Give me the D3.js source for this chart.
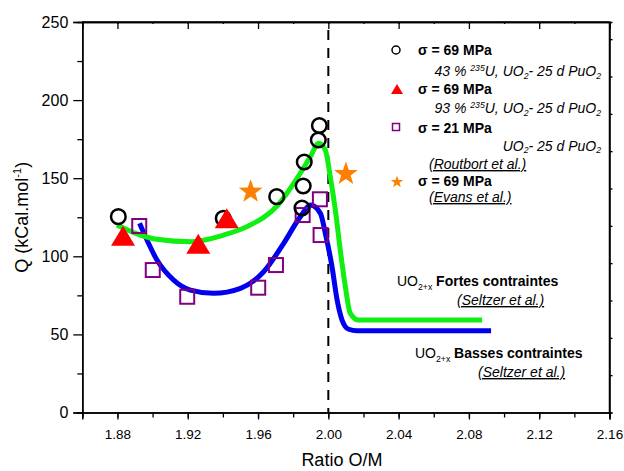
<!DOCTYPE html>
<html><head><meta charset="utf-8">
<script src="https://cdn.jsdelivr.net/npm/d3@7"></script>
<style>
body{margin:0;background:#fff;}
text{font-family:"Liberation Sans",Arial,sans-serif;fill:#000;}
</style></head>
<body><svg id="c" width="624" height="471"></svg>
<script>
// ---- data ----
const xTickValues = [1.88,1.92,1.96,2.00,2.04,2.08,2.12,2.16];
const yTickValues = [0,50,100,150,200,250];
const circlesX = [1.8805,1.9402,1.9706,1.9863,1.9857,1.9850,1.9949,1.9943];
const circlesY = [125.4,124.3,138.2,160.4,145.0,130.9,183.7,174.5];
const trianglesX = [1.8832,1.9260,1.9422];
const trianglesY = [113.1,108.0,124.3];
const squaresX = [1.8924,1.9001,1.9197,1.9601,1.9702,1.9854,1.9952,1.9956];
const squaresY = [119.4,91.2,74.1,79.9,94.4,126.4,136.5,113.6];
const starsX = [1.9558,2.0100];
const starsY = [141.4,152.7];
const greenX = [1.8797,1.8930,1.9025,1.9215,1.9404,1.9537,1.9708,1.9822,1.9898,1.9945,1.9983,2.0011,2.0040,2.0068,2.0097,2.0125,2.0173,2.0875];
const greenY = [120.0,113.6,110.9,109.3,113.6,119.0,132.2,149.9,163.8,172.3,168.0,151.0,129.6,104.0,80.5,63.5,59.2,59.2];
const blueX = [1.8926,1.8968,1.9025,1.9120,1.9215,1.9347,1.9500,1.9632,1.9746,1.9841,1.9898,1.9955,1.9983,2.0021,2.0050,2.0078,2.0116,2.0163,2.0926];
const blueY = [121.1,110.4,97.6,84.8,78.4,76.3,79.5,90.1,108.3,125.4,132.8,127.5,114.7,93.3,72.0,59.2,53.3,52.4,52.4];
const vLineX = 2.00;

// ---- layout ----
const L=82.3, R=609.5, T=22, B=412.5;
const svg = d3.select("#c");
const x = d3.scaleLinear().domain([1.86,2.16]).range([L,R]);
const y = d3.scaleLinear().domain([0,250]).range([B,T]);
const yRight = d3.scaleLinear().domain([0,10.46]).range([B,T]);

// axes
const fmt = d3.format(".2f");
const minorX = d3.range(1.86,2.161,0.02).map(v=>+v.toFixed(2));
const gx = svg.append("g").attr("transform",`translate(0,${B})`);
gx.call(d3.axisBottom(x).tickValues(minorX).tickSize(5).tickFormat(""));
gx.append("g").call(d3.axisBottom(x).tickValues(xTickValues).tickSize(7).tickFormat(fmt));
gx.selectAll("text").attr("font-size",13.5).attr("font-family","Liberation Sans, Arial").attr("dy","1.2em").attr("fill","#000");
const gt = svg.append("g").attr("transform",`translate(0,${T})`);
gt.call(d3.axisBottom(x).tickValues(minorX).tickSize(2).tickFormat(""));
gt.append("g").call(d3.axisBottom(x).tickValues(xTickValues).tickSize(7).tickFormat(""));
const gy = svg.append("g").attr("transform",`translate(${L},0)`);
gy.call(d3.axisLeft(y).tickValues(d3.range(25,250,50)).tickSize(5).tickFormat(""));
gy.append("g").call(d3.axisLeft(y).tickValues(yTickValues).tickSize(9).tickPadding(5).tickFormat(d3.format("d")));
gy.selectAll("text").attr("font-size",16).attr("font-family","Liberation Sans, Arial").attr("fill","#000");
const gr = svg.append("g").attr("transform",`translate(${R},0)`);
gr.call(d3.axisRight(yRight).tickValues(d3.range(0,11)).tickSize(3).tickFormat(""));
svg.selectAll(".domain").attr("stroke","#000").attr("stroke-width",1.5);
svg.selectAll(".tick line").attr("stroke","#000").attr("stroke-width",1.3);
// frame lines
svg.append("line").attr("x1",L).attr("x2",R).attr("y1",T).attr("y2",T).attr("stroke","#000").attr("stroke-width",1.5);
svg.append("line").attr("x1",R).attr("x2",R).attr("y1",T).attr("y2",B).attr("stroke","#000").attr("stroke-width",1.5);

// axis titles
svg.append("text").attr("x",(L+R)/2-4).attr("y",466).attr("text-anchor","middle").attr("font-size",18).text("Ratio O/M");
const yl = svg.append("text").attr("transform",`translate(28,${(T+B)/2}) rotate(-90)`).attr("text-anchor","middle").attr("font-size",18);
yl.append("tspan").text("Q (kCal.mol");
yl.append("tspan").attr("dy",-7).attr("font-size",11).text("-1");
yl.append("tspan").attr("dy",7).text(")");

// dashed line
svg.append("line").attr("x1",x(vLineX)).attr("x2",x(vLineX)).attr("y1",y(250)+8).attr("y2",B)
  .attr("stroke","#000").attr("stroke-width",2).attr("stroke-dasharray","10,8");

// curves
const line = d3.line().x(d=>x(d[0])).y(d=>y(d[1])).curve(d3.curveMonotoneX);
const greenPts = greenX.map((v,i)=>[v,greenY[i]]);
const bluePts = blueX.map((v,i)=>[v,blueY[i]]);
svg.append("path").attr("d",line(bluePts)).attr("fill","none").attr("stroke","#0000ee").attr("stroke-width",5).attr("stroke-linejoin","round");
svg.append("path").attr("d",line(greenPts)).attr("fill","none").attr("stroke","#11ee11").attr("stroke-width",5).attr("stroke-linejoin","round");

// markers
function triPath(cx,cy,w,h){return `M${cx},${cy-h/2}L${cx+w/2},${cy+h/2}L${cx-w/2},${cy+h/2}Z`;}
function starPath(cx,cy,ro,ri){let p="";for(let i=0;i<10;i++){const r=i%2?ri:ro;const a=-Math.PI/2+i*Math.PI/5;p+=(i?"L":"M")+(cx+r*Math.cos(a)).toFixed(2)+","+(cy+r*Math.sin(a)).toFixed(2);}return p+"Z";}

svg.append("g").selectAll("rect").data(squaresX.map((v,i)=>[v,squaresY[i]])).join("rect")
  .attr("x",d=>x(d[0])-7).attr("y",d=>y(d[1])-7).attr("width",14).attr("height",14)
  .attr("fill","none").attr("stroke","#800080").attr("stroke-width",2);
svg.append("g").selectAll("circle").data(circlesX.map((v,i)=>[v,circlesY[i]])).join("circle")
  .attr("cx",d=>x(d[0])).attr("cy",d=>y(d[1])).attr("r",7.3)
  .attr("fill","none").attr("stroke","#000").attr("stroke-width",2.5);
svg.append("g").selectAll("path").data(trianglesX.map((v,i)=>[v,trianglesY[i]])).join("path")
  .attr("d",d=>triPath(x(d[0]),y(d[1]),24,20)).attr("fill","#ff0000");
svg.append("g").selectAll("path").data(starsX.map((v,i)=>[v,starsY[i]])).join("path")
  .attr("d",d=>starPath(x(d[0]),y(d[1]),12.5,5)).attr("fill","#ff8000");

// legend
const fs=14;
svg.append("circle").attr("cx",396).attr("cy",50).attr("r",4).attr("fill","none").attr("stroke","#000").attr("stroke-width",1.5);
svg.append("text").attr("x",418).attr("y",55).attr("font-size",fs).attr("font-weight","bold").text("σ = 69 MPa");
function compLine(yb,pct){
  const t=svg.append("text").attr("x",601).attr("y",yb).attr("text-anchor","end").attr("font-size",fs).attr("font-style","italic");
  t.append("tspan").text(pct+" % ");
  t.append("tspan").attr("dy",-5).attr("font-size",fs*0.62).text("235");
  t.append("tspan").attr("dy",5).text("U, UO");
  t.append("tspan").attr("dy",3).attr("font-size",fs*0.62).text("2");
  t.append("tspan").attr("dy",-3).text("- 25 d PuO");
  t.append("tspan").attr("dy",3).attr("font-size",fs*0.62).text("2");
}
compLine(76,"43");
svg.append("path").attr("d",triPath(397,89,12,10)).attr("fill","#ff0000");
svg.append("text").attr("x",418).attr("y",94).attr("font-size",fs).attr("font-weight","bold").text("σ = 69 MPa");
compLine(113,"93");
svg.append("rect").attr("x",392.5).attr("y",123.5).attr("width",7).attr("height",7).attr("fill","none").attr("stroke","#800080").attr("stroke-width",1.5);
svg.append("text").attr("x",418).attr("y",133).attr("font-size",fs).attr("font-weight","bold").text("σ = 21 MPa");
{const t=svg.append("text").attr("x",601).attr("y",150.5).attr("text-anchor","end").attr("font-size",fs).attr("font-style","italic");
 t.append("tspan").text("UO"); t.append("tspan").attr("dy",2.5).attr("font-size",fs*0.62).text("2");
 t.append("tspan").attr("dy",-2.5).text("- 25 d PuO"); t.append("tspan").attr("dy",2.5).attr("font-size",fs*0.62).text("2");}
svg.append("text").attr("x",429).attr("y",169).attr("font-size",fs).attr("font-style","italic").attr("text-decoration","underline").text("(Routbort et al.)");
svg.append("path").attr("d",starPath(397,182,6.5,2.6)).attr("fill","#ff8000");
svg.append("text").attr("x",418).attr("y",186).attr("font-size",fs).attr("font-weight","bold").text("σ = 69 MPa");
svg.append("text").attr("x",429).attr("y",202).attr("font-size",fs).attr("font-style","italic").attr("text-decoration","underline").text("(Evans et al.)");

// annotations
function uoLabel(xx,yb,bold){
  const t=svg.append("text").attr("x",xx).attr("y",yb).attr("font-size",fs);
  t.append("tspan").text("UO");
  t.append("tspan").attr("dy",4).attr("font-size",fs*0.62).text("2+x");
  t.append("tspan").attr("dy",-4).attr("font-weight","bold").text(" "+bold);
}
uoLabel(397,286,"Fortes contraintes");
svg.append("text").attr("x",457).attr("y",305).attr("font-size",fs).attr("font-style","italic").attr("text-decoration","underline").text("(Seltzer et al.)");
uoLabel(415,358,"Basses contraintes");
svg.append("text").attr("x",478).attr("y",377).attr("font-size",fs).attr("font-style","italic").attr("text-decoration","underline").text("(Seltzer et al.)");
</script></body></html>
